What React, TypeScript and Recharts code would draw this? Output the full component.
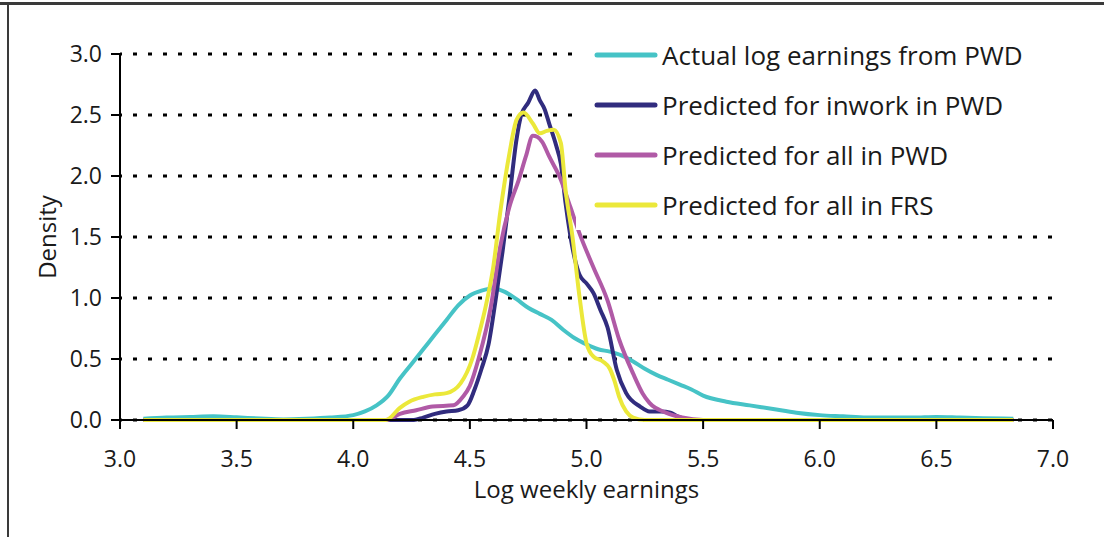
import { CartesianGrid, Line, LineChart, XAxis, YAxis } from "recharts";

// [log weekly earnings, density]
const actualPWD = [
  [3.1, 0.01], [3.2, 0.02], [3.3, 0.025], [3.4, 0.03], [3.5, 0.022], [3.6, 0.012],
  [3.7, 0.005], [3.8, 0.01], [3.9, 0.02], [4.0, 0.04], [4.05, 0.07], [4.1, 0.12],
  [4.15, 0.2], [4.2, 0.34], [4.25, 0.46], [4.3, 0.58], [4.35, 0.7], [4.4, 0.82],
  [4.45, 0.94], [4.5, 1.02], [4.55, 1.06], [4.6, 1.08], [4.65, 1.05], [4.7, 0.99],
  [4.75, 0.92], [4.8, 0.87], [4.85, 0.82], [4.9, 0.74], [4.95, 0.67], [5.0, 0.62],
  [5.05, 0.58], [5.1, 0.56], [5.15, 0.53], [5.2, 0.48], [5.25, 0.42], [5.3, 0.37],
  [5.35, 0.33], [5.4, 0.29], [5.45, 0.25], [5.5, 0.2], [5.6, 0.15], [5.7, 0.12],
  [5.8, 0.09], [5.9, 0.06], [6.0, 0.04], [6.1, 0.03], [6.2, 0.02], [6.3, 0.02],
  [6.4, 0.02], [6.5, 0.025], [6.6, 0.02], [6.7, 0.015], [6.83, 0.01],
];

const inworkPWD = [
  [3.1, 0], [4.26, 0], [4.3, 0.02], [4.35, 0.05], [4.4, 0.07], [4.45, 0.08],
  [4.49, 0.12], [4.52, 0.25], [4.55, 0.42], [4.58, 0.62], [4.61, 0.98], [4.64, 1.38],
  [4.67, 1.83], [4.7, 2.3], [4.72, 2.5], [4.75, 2.6], [4.78, 2.7], [4.8, 2.62],
  [4.82, 2.55], [4.84, 2.43], [4.87, 2.25], [4.89, 2.1], [4.91, 1.78], [4.93, 1.52],
  [4.95, 1.32], [4.97, 1.19], [5.0, 1.12], [5.03, 1.04], [5.06, 0.9], [5.09, 0.76],
  [5.13, 0.41], [5.17, 0.22], [5.23, 0.11], [5.27, 0.07], [5.32, 0.07], [5.36, 0.06],
  [5.39, 0.03], [5.45, 0], [6.83, 0],
];

const allPWD = [
  [3.1, 0], [4.14, 0], [4.2, 0.05], [4.27, 0.08], [4.34, 0.11], [4.43, 0.12],
  [4.47, 0.19], [4.5, 0.28], [4.54, 0.52], [4.59, 0.93], [4.63, 1.42], [4.67, 1.75],
  [4.71, 1.97], [4.74, 2.16], [4.77, 2.33], [4.79, 2.32], [4.81, 2.28], [4.84, 2.16],
  [4.89, 1.97], [4.93, 1.75], [4.97, 1.53], [5.03, 1.25], [5.09, 0.98], [5.14, 0.66],
  [5.2, 0.38], [5.24, 0.22], [5.27, 0.14], [5.34, 0.06], [5.41, 0.02], [5.5, 0],
  [6.83, 0],
];

const allFRS = [
  [3.1, 0], [4.14, 0], [4.2, 0.1], [4.24, 0.15], [4.3, 0.19], [4.35, 0.21],
  [4.4, 0.22], [4.46, 0.3], [4.51, 0.5], [4.54, 0.71], [4.57, 0.95], [4.6, 1.25],
  [4.63, 1.7], [4.67, 2.19], [4.7, 2.46], [4.73, 2.52], [4.77, 2.43], [4.8, 2.35],
  [4.83, 2.37], [4.86, 2.38], [4.89, 2.27], [4.91, 1.89], [4.94, 1.5], [4.97, 1.01],
  [5.0, 0.63], [5.03, 0.52], [5.07, 0.48], [5.1, 0.42], [5.12, 0.32], [5.14, 0.19],
  [5.17, 0.07], [5.2, 0.02], [5.25, 0], [6.83, 0],
];

const xTicks = [3, 3.5, 4, 4.5, 5, 5.5, 6, 6.5, 7];
const yTicks = [0, 0.5, 1, 1.5, 2, 2.5, 3];

const series = [
  { name: "Actual log earnings from PWD", color: "#46c3c6", points: actualPWD },
  { name: "Predicted for inwork in PWD", color: "#312c7e", points: inworkPWD },
  { name: "Predicted for all in PWD", color: "#b05aa6", points: allPWD },
  { name: "Predicted for all in FRS", color: "#ebe83a", points: allFRS },
];

const font = "'Open Sans', sans-serif";
const tickStyle = { fill: "#1a1a1a", fontSize: 23, fontFamily: font };

function LegendBox() {
  return (
    <div style={{ position: "absolute", left: 576, top: 30, width: 478, height: 200, background: "#fff" }}>
      {series.map((s) => (
        <div key={s.name} style={{ display: "flex", alignItems: "center", height: 50 }}>
          <svg width={70} height={10} style={{ marginLeft: 18 }}>
            <line x1={3} y1={5} x2={61} y2={5} stroke={s.color} strokeWidth={5} strokeLinecap="round" />
          </svg>
          <span style={{ fontFamily: font, fontSize: 26, color: "#1a1a1a", marginLeft: -2, whiteSpace: "nowrap" }}>
            {s.name}
          </span>
        </div>
      ))}
    </div>
  );
}

export default function App() {
  return (
    <div style={{ position: "relative", width: 1104, height: 537, background: "#fff" }}>
      <style>{"body{margin:0}"}</style>
      <div style={{ position: "absolute", left: 0, top: 0 }}>
        <LineChart width={1104} height={537} margin={{ top: 54, right: 51, left: 0, bottom: 0 }}>
          <CartesianGrid
            vertical={false}
            stroke="#000"
            strokeWidth={3}
            strokeDasharray="4 11"
            strokeDashoffset={2}
          />
          <XAxis
            type="number"
            dataKey="x"
            domain={[3, 7]}
            ticks={xTicks}
            allowDataOverflow
            tickFormatter={(v: number) => v.toFixed(1)}
            height={117}
            stroke="#000"
            strokeWidth={2}
            tickSize={9}
            tickMargin={22}
            tick={tickStyle}
            label={{
              value: "Log weekly earnings",
              position: "insideBottom",
              offset: 39,
              style: { fill: "#1a1a1a", fontSize: 24, fontFamily: font },
            }}
          />
          <YAxis
            type="number"
            domain={[0, 3]}
            ticks={yTicks}
            tickFormatter={(v: number) => v.toFixed(1)}
            width={120}
            stroke="#000"
            strokeWidth={2}
            tickSize={9}
            tickMargin={9}
            tick={tickStyle}
            label={{
              value: "Density",
              angle: -90,
              position: "insideLeft",
              offset: 47,
              style: { fill: "#1a1a1a", fontSize: 24, fontFamily: font, textAnchor: "middle" },
            }}
          />
          {series.map((s) => (
            <Line
              key={s.name}
              name={s.name}
              data={s.points.map(([x, y]) => ({ x, y }))}
              dataKey="y"
              type="monotone"
              stroke={s.color}
              strokeWidth={4}
              strokeLinejoin="round"
              dot={false}
              activeDot={false}
              isAnimationActive={false}
            />
          ))}
        </LineChart>
      </div>
      <LegendBox />
      <div style={{ position: "absolute", left: 0, right: 0, top: 2, height: 3, background: "#3a3a3a" }} />
      <div style={{ position: "absolute", left: 7, top: 2, bottom: 0, width: 2, background: "#3a3a3a" }} />
    </div>
  );
}
